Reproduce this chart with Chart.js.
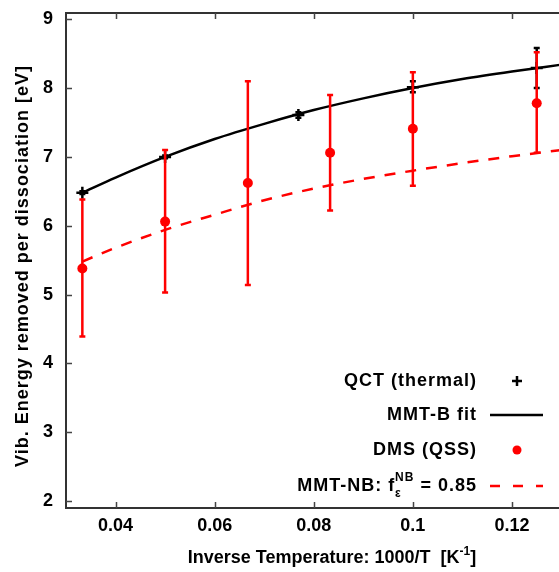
<!DOCTYPE html>
<html>
<head>
<meta charset="utf-8">
<script src="https://cdn.jsdelivr.net/npm/chart.js@4.4.1/dist/chart.umd.min.js"></script>
<style>
  html, body { margin: 0; padding: 0; background: #fff; overflow: hidden; }
  #wrap { width: 570px; height: 572px; }
</style>
</head>
<body>
<div id="wrap"><canvas id="chart" width="570" height="572"></canvas></div>
<script>
// inverse temperature 1000/T
const qctX = [0.0333, 0.05, 0.0769, 0.1, 0.125];
const qctY = [6.48, 7.0, 7.61, 8.01, 8.29];
const qctLow = [6.46, 6.98, 7.57, 7.94, 8.0];
const qctHigh = [6.50, 7.02, 7.65, 8.10, 8.58];

const dmsX = [0.0333, 0.05, 0.0667, 0.0833, 0.1, 0.125];
const dmsY = [5.38, 6.06, 6.62, 7.06, 7.41, 7.78];
const dmsLow = [4.39, 5.03, 5.14, 6.22, 6.58, 7.06];
const dmsHigh = [6.38, 7.10, 8.10, 7.90, 8.23, 8.52];

// fit curves
const fitX = [0.0333, 0.04, 0.05, 0.06, 0.07, 0.08, 0.09, 0.1, 0.11, 0.12, 0.13];
const mmtB = [6.48, 6.70, 7.0, 7.26, 7.48, 7.68, 7.85, 8.0, 8.13, 8.24, 8.34];
const mmtNB = [5.48, 5.68, 5.94, 6.16, 6.37, 6.54, 6.68, 6.80, 6.91, 7.01, 7.10];

const xTicks = [0.04, 0.06, 0.08, 0.1, 0.12];
const yTicks = [2, 3, 4, 5, 6, 7, 8, 9];

const FONT = "'Liberation Sans', Arial, sans-serif";
const RED = "#ff0000";

const pts = (xs, ys) => xs.map((x, i) => ({ x: x, y: ys[i] }));

// error bars, drawn just before each dataset's own points
const errorBars = {
  id: "errorBars",
  beforeDatasetDraw(chart, args) {
    const ds = chart.data.datasets[args.index];
    if (!ds.errLow) return;
    const { ctx, scales: { x, y } } = chart;
    ctx.save();
    ctx.strokeStyle = ds.errColor;
    ctx.lineWidth = 2.5;
    ds.data.forEach((p, i) => {
      const px = x.getPixelForValue(p.x);
      const lo = y.getPixelForValue(ds.errLow[i]);
      const hi = y.getPixelForValue(ds.errHigh[i]);
      ctx.beginPath();
      ctx.moveTo(px, lo); ctx.lineTo(px, hi);
      ctx.moveTo(px - 3, lo); ctx.lineTo(px + 3, lo);
      ctx.moveTo(px - 3, hi); ctx.lineTo(px + 3, hi);
      ctx.stroke();
    });
    ctx.restore();
  }
};

// gnuplot style frame with inward ticks, axis titles and legend
const frame = {
  id: "frame",
  afterDraw(chart) {
    const { ctx, chartArea: a, scales: { x, y } } = chart;
    ctx.save();
    ctx.strokeStyle = "#333";
    ctx.lineWidth = 2;
    ctx.beginPath();
    ctx.moveTo(a.right, a.top); ctx.lineTo(a.left, a.top);
    ctx.lineTo(a.left, a.bottom); ctx.lineTo(a.right, a.bottom);
    ctx.stroke();
    ctx.lineWidth = 1.5;
    ctx.strokeStyle = "#444";
    ctx.beginPath();
    xTicks.forEach(v => {
      const px = Math.round(x.getPixelForValue(v)) + 0.5;
      ctx.moveTo(px, a.bottom); ctx.lineTo(px, a.bottom - 6);
      ctx.moveTo(px, a.top); ctx.lineTo(px, a.top + 6);
    });
    yTicks.forEach(v => {
      const py = Math.round(y.getPixelForValue(v)) + 0.5;
      ctx.moveTo(a.left, py); ctx.lineTo(a.left + 6, py);
    });
    ctx.stroke();

    ctx.fillStyle = "#000";
    const big = "bold 18px " + FONT, small = "bold 12px " + FONT;
    // y title
    ctx.save();
    ctx.translate(23, 266);
    ctx.rotate(-Math.PI / 2);
    ctx.font = big;
    ctx.letterSpacing = "1px";
    ctx.textAlign = "center";
    ctx.textBaseline = "middle";
    ctx.fillText("Vib. Energy removed per dissociation [eV]", 0, 0);
    ctx.restore();

    // x title with superscript
    ctx.textBaseline = "alphabetic";
    ctx.textAlign = "left";
    ctx.font = big;
    const t1 = "Inverse Temperature: 1000/T  [K", t3 = "]";
    const w1 = ctx.measureText(t1).width, w3 = ctx.measureText(t3).width;
    ctx.font = small;
    const w2 = ctx.measureText("-1").width;
    let sx = 332 - (w1 + w2 + w3) / 2;
    ctx.font = big; ctx.fillText(t1, sx, 563);
    ctx.font = small; ctx.fillText("-1", sx + w1, 555);
    ctx.font = big; ctx.fillText(t3, sx + w1 + w2, 563);

    // legend
    const rx = 477, sym = 517;
    const rows = [381, 415, 450, 486];
    ctx.letterSpacing = "1px";
    ctx.font = big;
    ctx.textAlign = "right";
    ctx.textBaseline = "middle";
    ctx.fillText("QCT (thermal)", rx, rows[0]);
    ctx.fillText("MMT-B fit", rx, rows[1]);
    ctx.fillText("DMS (QSS)", rx, rows[2]);
    // MMT-NB label: f with sub epsilon and sup NB
    const tail = " = 0.85";
    const wTail = ctx.measureText(tail).width;
    ctx.fillText(tail, rx, rows[3]);
    ctx.font = small;
    const wNB = ctx.measureText("NB").width;
    ctx.textAlign = "left";
    const supX = rx - wTail - wNB;
    ctx.fillText("NB", supX, rows[3] - 8);
    ctx.fillText("\u03b5", supX, rows[3] + 8);
    ctx.font = big;
    ctx.textAlign = "right";
    ctx.fillText("MMT-NB: f", supX, rows[3]);
    ctx.letterSpacing = "0px";

    // legend symbols
    ctx.strokeStyle = "#000";
    ctx.lineWidth = 2.5;
    ctx.beginPath();
    ctx.moveTo(sym - 5, rows[0]); ctx.lineTo(sym + 5, rows[0]);
    ctx.moveTo(sym, rows[0] - 5); ctx.lineTo(sym, rows[0] + 5);
    ctx.moveTo(490, rows[1]); ctx.lineTo(543, rows[1]);
    ctx.stroke();
    ctx.fillStyle = RED;
    ctx.beginPath();
    ctx.arc(sym, rows[2], 4.5, 0, Math.PI * 2);
    ctx.fill();
    ctx.strokeStyle = RED;
    ctx.setLineDash([10, 13]);
    ctx.beginPath();
    ctx.moveTo(490, rows[3]); ctx.lineTo(543, rows[3]);
    ctx.stroke();
    ctx.restore();
  }
};

new Chart(document.getElementById("chart"), {
  type: "scatter",
  data: {
    datasets: [
      {
        label: "QCT (thermal)",
        data: pts(qctX, qctY),
        errLow: qctLow, errHigh: qctHigh, errColor: "#000",
        pointStyle: "cross", pointRadius: 6, borderColor: "#000", borderWidth: 2.5,
        showLine: false, order: 4
      },
      {
        label: "MMT-B fit",
        data: pts(fitX, mmtB),
        showLine: true, borderColor: "#000", borderWidth: 2.5, pointRadius: 0,
        cubicInterpolationMode: "monotone", order: 3
      },
      {
        label: "DMS (QSS)",
        data: pts(dmsX, dmsY),
        errLow: dmsLow, errHigh: dmsHigh, errColor: RED,
        pointStyle: "circle", pointRadius: 5, backgroundColor: RED, borderColor: RED, borderWidth: 0,
        showLine: false, order: 2
      },
      {
        label: "MMT-NB: f = 0.85",
        data: pts(fitX, mmtNB),
        showLine: true, borderColor: RED, borderWidth: 2.5, borderDash: [11, 10], pointRadius: 0,
        cubicInterpolationMode: "monotone", order: 1
      }
    ]
  },
  options: {
    responsive: false,
    animation: false,
    devicePixelRatio: 1,
    layout: { padding: { left: 0, top: 13, right: 4, bottom: 0 } },
    plugins: { legend: { display: false }, tooltip: { enabled: false } },
    scales: {
      x: {
        type: "linear", min: 0.03, max: 0.13,
        grid: { display: false, drawTicks: false }, border: { display: false },
        afterBuildTicks: s => { s.ticks = xTicks.map(v => ({ value: v })); },
        afterFit: s => { s.height = 64; s.paddingLeft = 0; s.paddingRight = 0; },
        ticks: { padding: 7, color: "#000", font: { family: FONT, size: 18, weight: "bold" },
                 callback: v => String(+v.toFixed(2)) }
      },
      y: {
        type: "linear", min: 1.9, max: 9.09,
        grid: { display: false, drawTicks: false }, border: { display: false },
        afterBuildTicks: s => { s.ticks = yTicks.map(v => ({ value: v })); },
        afterFit: s => { s.width = 66; s.paddingTop = 0; s.paddingBottom = 0; },
        ticks: { padding: 13, color: "#000", font: { family: FONT, size: 18, weight: "bold" } }
      }
    }
  },
  plugins: [errorBars, frame]
});
</script>
</body>
</html>
